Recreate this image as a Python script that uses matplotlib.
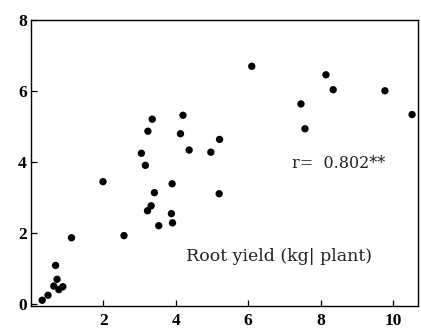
import matplotlib
matplotlib.use("Agg")
import matplotlib.pyplot as plt

# Scatter data: x vs root yield
x_vals = [6.10, 8.15, 8.35, 9.78, 10.53, 7.46, 7.57, 4.20, 3.35, 3.23,
          4.13, 5.21, 4.37, 4.97, 3.05, 3.16, 1.99, 3.90, 3.41, 5.20,
          3.32, 3.22, 3.88, 3.91, 3.53, 2.57, 1.12, 0.68,
          0.72, 0.63, 0.88, 0.77, 0.47, 0.31]
y_vals = [6.70, 6.46, 6.04, 6.01, 5.34, 5.64, 4.94, 5.32, 5.21, 4.87,
          4.80, 4.64, 4.34, 4.28, 4.25, 3.91, 3.45, 3.39, 3.14, 3.11,
          2.77, 2.63, 2.55, 2.29, 2.21, 1.93, 1.87, 1.09,
          0.70, 0.51, 0.49, 0.41, 0.25, 0.11]

x_ticks = [2, 4, 6, 8, 10]
y_ticks = [0, 2, 4, 6, 8]
r_label = "r=  0.802**"
axis_text = "Root yield (kg| plant)"

fig = plt.figure(figsize=(4.21, 3.30), dpi=100)
ax = fig.add_axes([0.0736, 0.073, 0.919, 0.866])

ax.scatter(x_vals, y_vals, s=28, color="black", edgecolors="none", zorder=3)

ax.set_xlim(0, 10.69)
ax.set_ylim(-0.05, 8)
ax.set_xticks(x_ticks)
ax.set_yticks(y_ticks)
tick_font = dict(family="Liberation Serif", weight="bold", size=12.5)
ax.set_xticklabels([str(t) for t in x_ticks], **tick_font)
ax.set_yticklabels([str(t) for t in y_ticks], **tick_font)
ax.tick_params(direction="in", length=4, width=0.9, pad=3, color="black")
ax.tick_params(axis="x", pad=5)

for sp in ax.spines.values():
    sp.set_linewidth(1.0)
    sp.set_color("black")

ax.text(7.2, 3.97, r_label, family="DejaVu Serif", fontsize=11.5,
        va="center", ha="left", color="#222222")
ax.text(4.29, 1.35, axis_text, family="DejaVu Serif", fontsize=12.5,
        va="center", ha="left", color="#222222")

fig.savefig("out.png", dpi=100)
